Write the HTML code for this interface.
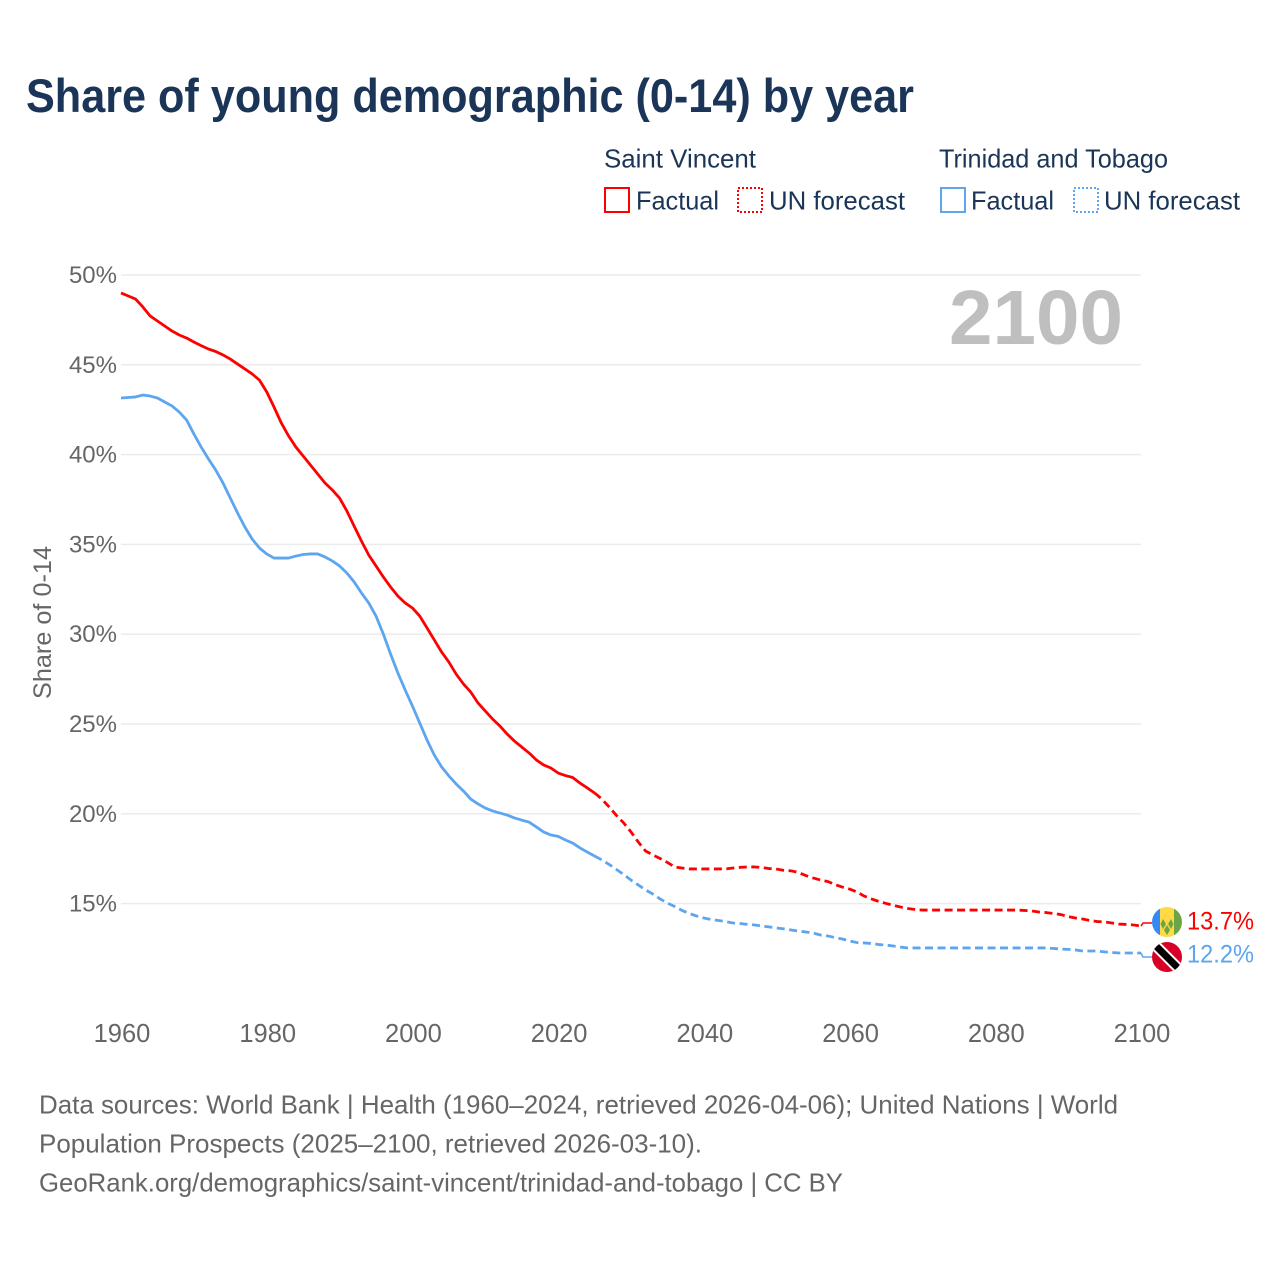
<!DOCTYPE html>
<html lang="en">
<head>
<meta charset="utf-8">
<title>Share of young demographic (0-14) by year</title>
<style>
  html, body { margin: 0; padding: 0; background: #fff; }
  svg { display: block; font-family: "Liberation Sans", sans-serif; }
</style>
</head>
<body>
<svg id="chart" xmlns="http://www.w3.org/2000/svg" width="1280" height="1280" viewBox="0 0 1280 1280">
  <defs>
    <clipPath id="flag-clip-sv"><circle cx="1167" cy="922" r="15"/></clipPath>
    <clipPath id="flag-clip-tt"><circle cx="1167" cy="957" r="15"/></clipPath>
  </defs>
  <rect width="1280" height="1280" fill="#fff"/>

  <text x="26" y="112" font-size="47" font-weight="700" fill="#1a3557" textLength="888" lengthAdjust="spacingAndGlyphs">Share of young demographic (0-14) by year</text>

  <g font-size="26" fill="#1a3557">
    <text x="604" y="167.5" textLength="152" lengthAdjust="spacingAndGlyphs">Saint Vincent</text>
    <text x="939" y="167.5" textLength="229" lengthAdjust="spacingAndGlyphs">Trinidad and Tobago</text>

    <rect x="605" y="188" width="24" height="24" fill="none" stroke="#ff0000" stroke-width="2"/>
    <text x="636" y="209.5" textLength="83" lengthAdjust="spacingAndGlyphs">Factual</text>
    <rect x="738" y="188" width="24" height="24" fill="none" stroke="#ff0000" stroke-width="2" stroke-dasharray="2 2"/>
    <text x="769" y="209.5" textLength="136" lengthAdjust="spacingAndGlyphs">UN forecast</text>

    <rect x="941" y="188" width="24" height="24" fill="none" stroke="#5da5ee" stroke-width="2"/>
    <text x="971" y="209.5" textLength="83" lengthAdjust="spacingAndGlyphs">Factual</text>
    <rect x="1074" y="188" width="24" height="24" fill="none" stroke="#5da5ee" stroke-width="2" stroke-dasharray="2 2"/>
    <text x="1104" y="209.5" textLength="136" lengthAdjust="spacingAndGlyphs">UN forecast</text>
  </g>

  <g id="grid"></g>
  <g id="y-axis"></g>
  <g id="x-axis"></g>

  <text transform="translate(51,699) rotate(-90)" font-size="25" fill="#666666" textLength="153" lengthAdjust="spacingAndGlyphs">Share of 0-14</text>

  <text x="949" y="344" font-size="77" font-weight="700" fill="#bfbfbf" textLength="174" lengthAdjust="spacingAndGlyphs">2100</text>

  <g id="series"></g>

  <g clip-path="url(#flag-clip-sv)">
    <rect x="1152" y="907" width="8" height="30" fill="#338af3"/>
    <rect x="1160" y="907" width="14" height="30" fill="#ffda44"/>
    <rect x="1174" y="907" width="8" height="30" fill="#6da544"/>
    <polygon points="1163,919 1166,924 1163,929 1160.5,924" fill="#6da544"/>
    <polygon points="1171,919 1173.5,924 1171,929 1168,924" fill="#6da544"/>
    <polygon points="1167,925 1170,930 1167,935 1164,930" fill="#6da544"/>
  </g>
  <g clip-path="url(#flag-clip-tt)">
    <rect x="1152" y="942" width="30" height="30" fill="#d80027"/>
    <line x1="1152" y1="942" x2="1182" y2="972" stroke="#ffffff" stroke-width="11"/>
    <line x1="1152" y1="942" x2="1182" y2="972" stroke="#000000" stroke-width="7"/>
  </g>

  <g id="end-labels"></g>

  <g font-size="26" fill="#666666">
    <text x="39" y="1113.5" textLength="1079" lengthAdjust="spacingAndGlyphs">Data sources: World Bank | Health (1960–2024, retrieved 2026-04-06); United Nations | World</text>
    <text x="39" y="1152.5" textLength="663" lengthAdjust="spacingAndGlyphs">Population Prospects (2025–2100, retrieved 2026-03-10).</text>
    <text x="39" y="1191.5" textLength="804" lengthAdjust="spacingAndGlyphs">GeoRank.org/demographics/saint-vincent/trinidad-and-tobago | CC BY</text>
  </g>
</svg>

<script>
const xTickYears = [1960, 1980, 2000, 2020, 2040, 2060, 2080, 2100];
const yTickValues = [15, 20, 25, 30, 35, 40, 45, 50];
const factualStartYear = 1960;
const forecastStartYear = 2025;

const saintVincentFactual = [
  49,48.83,48.66,48.22,47.72,47.44,47.16,46.88,46.66,46.49,
  46.27,46.07,45.88,45.74,45.55,45.32,45.04,44.77,44.49,44.15,
  43.49,42.65,41.76,41.04,40.42,39.92,39.42,38.92,38.42,38.03,
  37.58,36.86,36.02,35.19,34.41,33.8,33.19,32.63,32.13,31.74,
  31.46,31.01,30.35,29.68,29.01,28.45,27.78,27.23,26.78,26.17,
  25.72,25.28,24.89,24.44,24.05,23.72,23.39,23,22.72,22.55,
  22.27,22.13,22.02,21.71,21.44,21.16
];
const saintVincentForecast = [
  21.16,20.82,20.38,19.91,19.49,
  18.99,18.43,17.93,17.71,17.51,17.29,17.04,16.98,16.93,16.93,
  16.93,16.93,16.93,16.93,16.98,17.02,17.04,17.04,17.01,16.95,
  16.92,16.85,16.82,16.73,16.56,16.43,16.31,16.23,16.06,15.92,
  15.81,15.65,15.42,15.26,15.12,15.01,14.9,14.81,14.73,14.67,
  14.64,14.64,14.64,14.64,14.64,14.64,14.64,14.64,14.64,14.64,
  14.64,14.64,14.64,14.64,14.62,14.59,14.53,14.5,14.45,14.39,
  14.28,14.2,14.14,14.06,14,13.98,13.92,13.86,13.84,13.81,
  13.75
];
const trinidadFactual = [
  43.15,43.18,43.21,43.32,43.26,43.15,42.93,42.71,42.37,41.93,
  41.15,40.42,39.76,39.14,38.42,37.58,36.75,35.97,35.3,34.8,
  34.47,34.24,34.24,34.24,34.35,34.44,34.47,34.47,34.3,34.08,
  33.8,33.41,32.91,32.3,31.74,31.01,30.01,28.9,27.84,26.9,
  26,25.06,24.11,23.27,22.61,22.11,21.66,21.27,20.82,20.55,
  20.32,20.16,20.04,19.93,19.77,19.65,19.54,19.27,18.99,18.82,
  18.74,18.54,18.37,18.1,17.87,17.65
];
const trinidadForecast = [
  17.65,17.43,17.18,16.9,16.62,
  16.31,16.04,15.76,15.53,15.26,15.03,14.84,14.62,14.45,14.31,
  14.2,14.11,14.06,14,13.92,13.89,13.84,13.81,13.75,13.7,
  13.64,13.59,13.53,13.47,13.42,13.36,13.25,13.2,13.11,13.03,
  12.92,12.83,12.81,12.78,12.72,12.69,12.64,12.58,12.53,12.53,
  12.53,12.53,12.53,12.53,12.53,12.53,12.53,12.53,12.53,12.53,
  12.53,12.53,12.53,12.53,12.53,12.53,12.53,12.53,12.5,12.47,
  12.45,12.42,12.36,12.36,12.36,12.31,12.28,12.25,12.25,12.25,
  12.25
];
const saintVincentEndLabel = "13.7%";
const trinidadEndLabel = "12.2%";

const NS = "http://www.w3.org/2000/svg";
const RED = "#ff0000";
const BLUE = "#5da5ee";

function xScale(year) { return 121 + (year - 1960) * (1020 / 140); }
function yScale(value) { return 275 + (50 - value) * (628.6 / 35); }

function linePath(values, startYear) {
  return values.map(function (v, i) {
    return (i ? "L" : "M") + xScale(startYear + i).toFixed(2) + " " + yScale(v).toFixed(2);
  }).join(" ");
}

const grid = document.getElementById("grid");
const yAxis = document.getElementById("y-axis");
yTickValues.forEach(function (v) {
  const line = document.createElementNS(NS, "line");
  
  
  line.setAttribute("x1", xScale(1960));
  line.setAttribute("x2", xScale(2100));
  line.setAttribute("y1", yScale(v));
  line.setAttribute("y2", yScale(v));
  line.setAttribute("stroke", "#ebebeb");
  line.setAttribute("stroke-width", "1.5");
  grid.appendChild(line);

  const label = document.createElementNS(NS, "text");
  
  
  label.setAttribute("x", 117);
  label.setAttribute("y", yScale(v) + 8);
  label.setAttribute("text-anchor", "end");
  label.setAttribute("font-size", "24");
  label.setAttribute("fill", "#666666");
  label.textContent = v + "%";
  yAxis.appendChild(label);
});

const xAxis = document.getElementById("x-axis");
xTickYears.forEach(function (year) {
  const label = document.createElementNS(NS, "text");
  
  
  label.setAttribute("x", xScale(year) + 1);
  label.setAttribute("y", 1042);
  label.setAttribute("text-anchor", "middle");
  label.setAttribute("font-size", "25.5");
  label.setAttribute("fill", "#666666");
  label.textContent = year;
  xAxis.appendChild(label);
});

const seriesGroup = document.getElementById("series");

function styleLine(el, color, dashed) {
  el.setAttribute("fill", "none");
  el.setAttribute("stroke", color);
  el.setAttribute("stroke-width", "2.8");
  el.setAttribute("stroke-linejoin", "round");
  if (dashed) { el.setAttribute("stroke-dasharray", "8 4.5"); }
  seriesGroup.appendChild(el);
}

const lineTT = document.createElementNS(NS, "path");


lineTT.setAttribute("d", linePath(trinidadFactual, factualStartYear));
styleLine(lineTT, BLUE, false);

const lineTTForecast = document.createElementNS(NS, "path");


lineTTForecast.setAttribute("d", linePath(trinidadForecast, forecastStartYear));
styleLine(lineTTForecast, BLUE, true);

const lineSV = document.createElementNS(NS, "path");


lineSV.setAttribute("d", linePath(saintVincentFactual, factualStartYear));
styleLine(lineSV, RED, false);

const lineSVForecast = document.createElementNS(NS, "path");


lineSVForecast.setAttribute("d", linePath(saintVincentForecast, forecastStartYear));
styleLine(lineSVForecast, RED, true);

function connectorPath(values, flagY) {
  const endX = xScale(2100);
  const endY = yScale(values[values.length - 1]);
  return "M" + endX + " " + endY + " L" + (endX + 2) + " " + flagY + " L1152 " + flagY;
}

const connectorSV = document.createElementNS(NS, "path");


connectorSV.setAttribute("d", connectorPath(saintVincentForecast, 923));
connectorSV.setAttribute("fill", "none");
connectorSV.setAttribute("stroke", RED);
connectorSV.setAttribute("stroke-width", "1.5");
seriesGroup.appendChild(connectorSV);

const connectorTT = document.createElementNS(NS, "path");


connectorTT.setAttribute("d", connectorPath(trinidadForecast, 957));
connectorTT.setAttribute("fill", "none");
connectorTT.setAttribute("stroke", BLUE);
connectorTT.setAttribute("stroke-width", "1.5");
seriesGroup.appendChild(connectorTT);

const endLabels = document.getElementById("end-labels");

const endSV = document.createElementNS(NS, "text");


endSV.setAttribute("x", 1187);
endSV.setAttribute("y", 929.5);
endSV.setAttribute("font-size", "25");
endSV.setAttribute("fill", RED);
endSV.setAttribute("textLength", "67");
endSV.setAttribute("lengthAdjust", "spacingAndGlyphs");
endSV.textContent = saintVincentEndLabel;
endLabels.appendChild(endSV);

const endTT = document.createElementNS(NS, "text");


endTT.setAttribute("x", 1187);
endTT.setAttribute("y", 962.5);
endTT.setAttribute("font-size", "25");
endTT.setAttribute("fill", BLUE);
endTT.setAttribute("textLength", "67");
endTT.setAttribute("lengthAdjust", "spacingAndGlyphs");
endTT.textContent = trinidadEndLabel;
endLabels.appendChild(endTT);
</script>
</body>
</html>
